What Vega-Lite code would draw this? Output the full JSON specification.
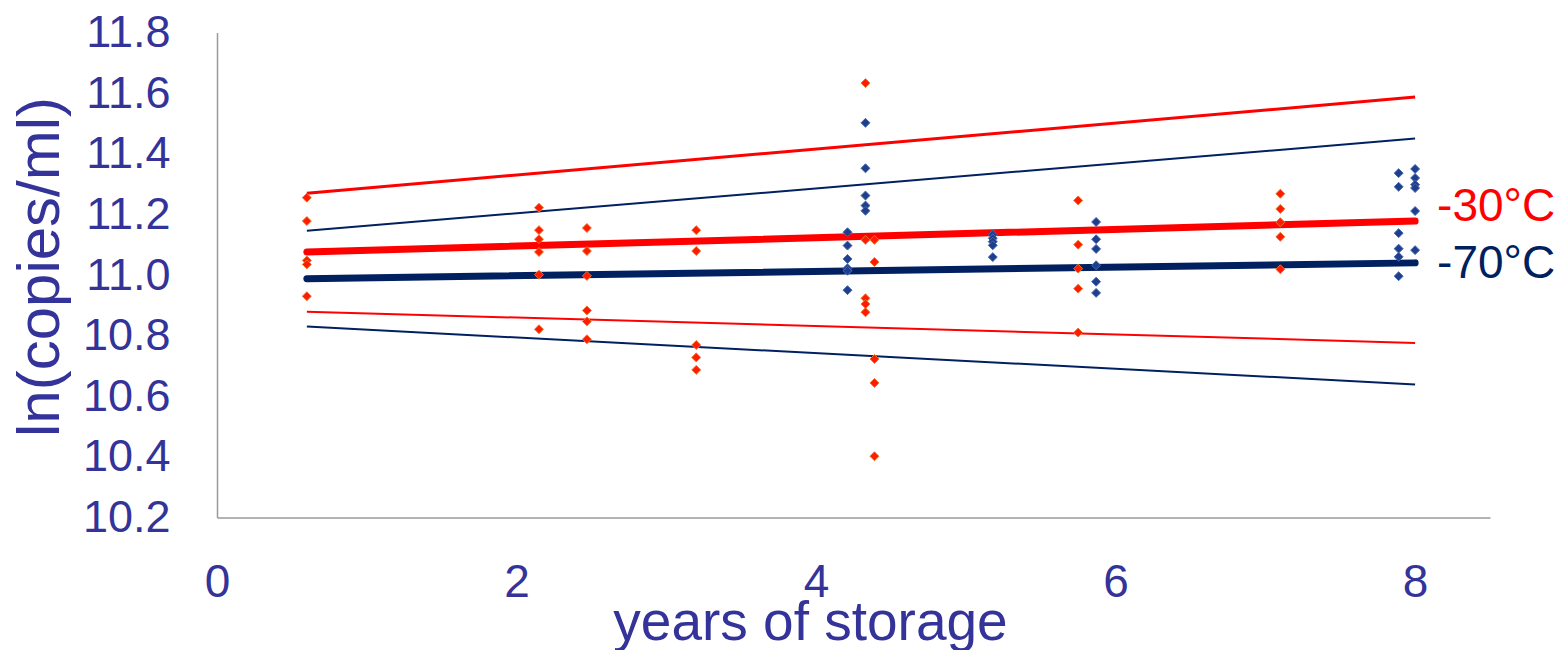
{
  "$schema": "https://vega.github.io/schema/vega-lite/v6.json",
  "width": 1273,
  "height": 485,
  "autosize": {"type": "none"},
  "padding": {"left": 217, "top": 32.5, "right": 70, "bottom": 132.5},
  "background": "white",
  "config": {
    "view": {"stroke": null},
    "axis": {
      "grid": false,
      "ticks": false,
      "domainColor": "#9a9a9a",
      "domainWidth": 1.5,
      "labelColor": "#333399",
      "titleColor": "#333399",
      "labelFont": "Liberation Sans",
      "titleFont": "Liberation Sans",
      "titleFontWeight": "normal"
    }
  },
  "datasets": {
    "lines": [
      {"line": "30fit", "temp": "-30°C", "x": 0.6, "y": 11.076},
      {"line": "30fit", "temp": "-30°C", "x": 8.0, "y": 11.178},
      {"line": "30up", "temp": "-30°C", "x": 0.6, "y": 11.27},
      {"line": "30up", "temp": "-30°C", "x": 8.0, "y": 11.587},
      {"line": "30lo", "temp": "-30°C", "x": 0.6, "y": 10.879},
      {"line": "30lo", "temp": "-30°C", "x": 8.0, "y": 10.776},
      {"line": "70fit", "temp": "-70°C", "x": 0.6, "y": 10.988},
      {"line": "70fit", "temp": "-70°C", "x": 8.0, "y": 11.04},
      {"line": "70up", "temp": "-70°C", "x": 0.6, "y": 11.146},
      {"line": "70up", "temp": "-70°C", "x": 8.0, "y": 11.45},
      {"line": "70lo", "temp": "-70°C", "x": 0.6, "y": 10.83},
      {"line": "70lo", "temp": "-70°C", "x": 8.0, "y": 10.639}
    ],
    "points": [
      {"temp": "-30°C", "x": 0.6, "y": 11.255},
      {"temp": "-30°C", "x": 0.6, "y": 11.178},
      {"temp": "-30°C", "x": 0.6, "y": 11.048},
      {"temp": "-30°C", "x": 0.6, "y": 11.035},
      {"temp": "-30°C", "x": 0.6, "y": 10.93},
      {"temp": "-30°C", "x": 2.15, "y": 11.222},
      {"temp": "-30°C", "x": 2.15, "y": 11.148},
      {"temp": "-30°C", "x": 2.15, "y": 11.118},
      {"temp": "-30°C", "x": 2.15, "y": 11.076},
      {"temp": "-30°C", "x": 2.15, "y": 11.001},
      {"temp": "-30°C", "x": 2.15, "y": 10.821},
      {"temp": "-30°C", "x": 2.47, "y": 11.155},
      {"temp": "-30°C", "x": 2.47, "y": 11.079},
      {"temp": "-30°C", "x": 2.47, "y": 10.997},
      {"temp": "-30°C", "x": 2.47, "y": 10.883},
      {"temp": "-30°C", "x": 2.47, "y": 10.847},
      {"temp": "-30°C", "x": 2.47, "y": 10.788},
      {"temp": "-30°C", "x": 3.2, "y": 11.148},
      {"temp": "-30°C", "x": 3.2, "y": 11.079},
      {"temp": "-30°C", "x": 3.2, "y": 10.769},
      {"temp": "-30°C", "x": 3.2, "y": 10.728},
      {"temp": "-30°C", "x": 3.2, "y": 10.687},
      {"temp": "-30°C", "x": 4.33, "y": 11.633},
      {"temp": "-30°C", "x": 4.33, "y": 11.116},
      {"temp": "-30°C", "x": 4.33, "y": 10.923},
      {"temp": "-30°C", "x": 4.33, "y": 10.904},
      {"temp": "-30°C", "x": 4.33, "y": 10.877},
      {"temp": "-30°C", "x": 4.39, "y": 11.116},
      {"temp": "-30°C", "x": 4.39, "y": 11.043},
      {"temp": "-30°C", "x": 4.39, "y": 10.723},
      {"temp": "-30°C", "x": 4.39, "y": 10.644},
      {"temp": "-30°C", "x": 4.39, "y": 10.402},
      {"temp": "-30°C", "x": 5.75, "y": 11.246},
      {"temp": "-30°C", "x": 5.75, "y": 11.1},
      {"temp": "-30°C", "x": 5.75, "y": 11.021},
      {"temp": "-30°C", "x": 5.75, "y": 10.955},
      {"temp": "-30°C", "x": 5.75, "y": 10.81},
      {"temp": "-30°C", "x": 7.1, "y": 11.268},
      {"temp": "-30°C", "x": 7.1, "y": 11.218},
      {"temp": "-30°C", "x": 7.1, "y": 11.174},
      {"temp": "-30°C", "x": 7.1, "y": 11.126},
      {"temp": "-30°C", "x": 7.1, "y": 11.019},
      {"temp": "-70°C", "x": 4.21, "y": 11.141},
      {"temp": "-70°C", "x": 4.21, "y": 11.097},
      {"temp": "-70°C", "x": 4.21, "y": 11.053},
      {"temp": "-70°C", "x": 4.21, "y": 11.022},
      {"temp": "-70°C", "x": 4.21, "y": 11.014},
      {"temp": "-70°C", "x": 4.21, "y": 10.95},
      {"temp": "-70°C", "x": 4.33, "y": 11.502},
      {"temp": "-70°C", "x": 4.33, "y": 11.352},
      {"temp": "-70°C", "x": 4.33, "y": 11.262},
      {"temp": "-70°C", "x": 4.33, "y": 11.229},
      {"temp": "-70°C", "x": 4.33, "y": 11.212},
      {"temp": "-70°C", "x": 5.18, "y": 11.133},
      {"temp": "-70°C", "x": 5.18, "y": 11.121},
      {"temp": "-70°C", "x": 5.18, "y": 11.11},
      {"temp": "-70°C", "x": 5.18, "y": 11.098},
      {"temp": "-70°C", "x": 5.18, "y": 11.059},
      {"temp": "-70°C", "x": 5.87, "y": 11.175},
      {"temp": "-70°C", "x": 5.87, "y": 11.118},
      {"temp": "-70°C", "x": 5.87, "y": 11.086},
      {"temp": "-70°C", "x": 5.87, "y": 11.032},
      {"temp": "-70°C", "x": 5.87, "y": 10.978},
      {"temp": "-70°C", "x": 5.87, "y": 10.941},
      {"temp": "-70°C", "x": 7.89, "y": 11.336},
      {"temp": "-70°C", "x": 7.89, "y": 11.291},
      {"temp": "-70°C", "x": 7.89, "y": 11.138},
      {"temp": "-70°C", "x": 7.89, "y": 11.087},
      {"temp": "-70°C", "x": 7.89, "y": 11.06},
      {"temp": "-70°C", "x": 7.89, "y": 10.996},
      {"temp": "-70°C", "x": 8.0, "y": 11.35},
      {"temp": "-70°C", "x": 8.0, "y": 11.32},
      {"temp": "-70°C", "x": 8.0, "y": 11.298},
      {"temp": "-70°C", "x": 8.0, "y": 11.287},
      {"temp": "-70°C", "x": 8.0, "y": 11.211},
      {"temp": "-70°C", "x": 8.0, "y": 11.082}
    ],
    "labels": [
      {"temp": "-30°C", "x": 8.0, "y": 11.225, "label": "-30°C"},
      {"temp": "-70°C", "x": 8.0, "y": 11.036, "label": "-70°C"}
    ]
  },
  "encoding": {
    "x": {
      "field": "x", "type": "quantitative",
      "scale": {"domain": [0, 8.5], "nice": false, "zero": false},
      "axis": {
        "values": [0, 2, 4, 6, 8], "format": "d",
        "title": "years of storage",
        "labelFontSize": 46, "labelBaseline": "alphabetic", "labelPadding": 79, "labelFlush": false,
        "titleFontSize": 55, "titleX": 593, "titleY": 122,
        "titleBaseline": "alphabetic", "titleAlign": "center"
      }
    },
    "y": {
      "field": "y", "type": "quantitative",
      "scale": {"domain": [10.2, 11.8], "nice": false, "zero": false},
      "axis": {
        "values": [10.2, 10.4, 10.6, 10.8, 11.0, 11.2, 11.4, 11.6, 11.8], "format": ".1f",
        "title": "ln(copies/ml)",
        "labelFontSize": 45, "labelPadding": 47, "labelFlush": false,
        "titleFontSize": 60, "titleX": -159, "titleY": 234,
        "titleBaseline": "alphabetic", "titleAlign": "center", "titleAngle": -90
      }
    },
    "color": {
      "field": "temp", "type": "nominal",
      "scale": {"domain": ["-30°C", "-70°C"], "range": ["#FF0000", "#002060"]},
      "legend": null
    }
  },
  "layer": [
    {
      "data": {"name": "lines"},
      "transform": [{"filter": {"field": "line", "oneOf": ["30fit", "70fit"]}}],
      "mark": {"type": "line", "strokeCap": "round", "strokeWidth": 7},
      "encoding": {"detail": {"field": "line"}}
    },
    {
      "data": {"name": "lines"},
      "transform": [{"filter": {"field": "line", "equal": "30up"}}],
      "mark": {"type": "line", "strokeWidth": 3},
      "encoding": {"detail": {"field": "line"}}
    },
    {
      "data": {"name": "lines"},
      "transform": [{"filter": {"field": "line", "oneOf": ["30lo", "70up", "70lo"]}}],
      "mark": {"type": "line", "strokeWidth": 2},
      "encoding": {"detail": {"field": "line"}}
    },
    {
      "data": {"name": "points"},
      "mark": {"type": "point", "shape": "diamond", "filled": true, "opacity": 1, "strokeWidth": 1, "size": 80},
      "encoding": {
        "color": null,
        "fill": {
          "field": "temp", "type": "nominal",
          "scale": {"domain": ["-30°C", "-70°C"], "range": ["#FF1A00", "#1F3F8C"]},
          "legend": null
        },
        "stroke": {
          "field": "temp", "type": "nominal",
          "scale": {"domain": ["-30°C", "-70°C"], "range": ["#E8762C", "#4468B0"]},
          "legend": null
        }
      }
    },
    {
      "data": {"name": "labels"},
      "mark": {"type": "text", "align": "left", "baseline": "middle", "dx": 22, "fontSize": 46, "font": "Liberation Sans"},
      "encoding": {
        "text": {"field": "label"}
      }
    }
  ]
}
